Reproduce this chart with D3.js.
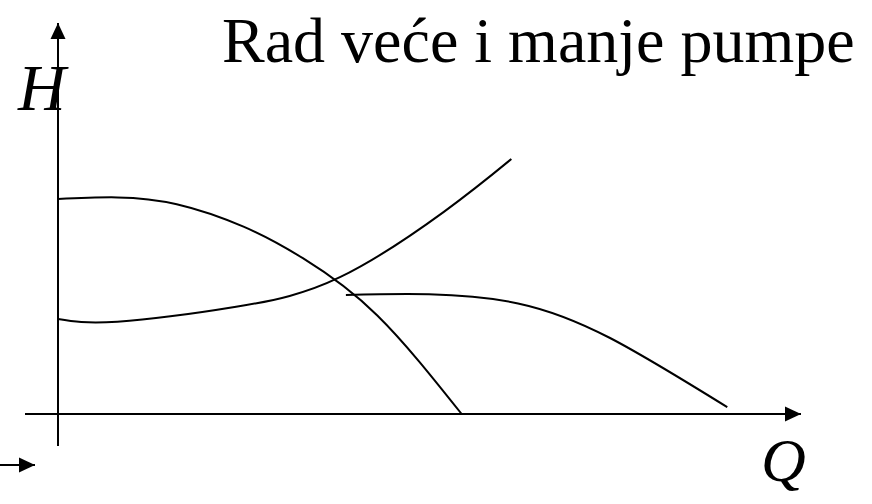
<!DOCTYPE html>
<html>
<head>
<meta charset="utf-8">
<script src="https://cdn.jsdelivr.net/npm/d3@7"></script>
<style>
  html, body { margin: 0; padding: 0; background: #fff; }
  svg { display: block; }
  text { font-family: "Liberation Serif", "Times New Roman", serif; fill: #000; }
</style>
</head>
<body>
<svg id="chart" width="872" height="504"></svg>
<script>
// Q-H curves (Q and H in relative units, 0..100)
const bigPumpQ = [0, 8, 16, 25, 33, 43, 54.4];
const bigPumpH = [56.6, 57.0, 55.2, 49.3, 41.0, 26.0, 0];

const systemQ = [0, 8, 24, 38, 52, 61.1];
const systemH = [25.0, 24.3, 28.2, 36.0, 53.2, 67.1];

const smallPumpQ = [38.8, 50, 62, 74.4, 90.2];
const smallPumpH = [31.3, 31.5, 29.1, 20.0, 1.8];

const titleText = "Rad veće i manje pumpe";
const xLabel = "Q";
const yLabel = "H";

const svg = d3.select("#chart");

const x = d3.scaleLinear().domain([0, 100]).range([58, 800]);
const y = d3.scaleLinear().domain([0, 100]).range([414, 34]);

// arrowhead marker
const defs = svg.append("defs");
defs.append("marker")
  .attr("id", "arrow")
  .attr("viewBox", "0 0 16 16")
  .attr("refX", 16).attr("refY", 8)
  .attr("markerWidth", 16).attr("markerHeight", 16)
  .attr("markerUnits", "userSpaceOnUse")
  .attr("orient", "auto")
  .append("path")
  .attr("d", "M0,0.5 L16,8 L0,15.5 Z")
  .attr("fill", "#000");

// axes
svg.append("line")
  .attr("x1", 25).attr("y1", y(0))
  .attr("x2", 801).attr("y2", y(0))
  .attr("stroke", "#000").attr("stroke-width", 2)
  .attr("marker-end", "url(#arrow)");

svg.append("line")
  .attr("x1", x(0)).attr("y1", 446)
  .attr("x2", x(0)).attr("y2", 23)
  .attr("stroke", "#000").attr("stroke-width", 2)
  .attr("marker-end", "url(#arrow)");

// small arrow, bottom left
svg.append("line")
  .attr("x1", 0).attr("y1", 465)
  .attr("x2", 35).attr("y2", 465)
  .attr("stroke", "#000").attr("stroke-width", 2)
  .attr("marker-end", "url(#arrow)");

// curves
const line = d3.line()
  .x(d => x(d[0]))
  .y(d => y(d[1]))
  .curve(d3.curveNatural);

const series = [
  d3.zip(bigPumpQ, bigPumpH),
  d3.zip(systemQ, systemH),
  d3.zip(smallPumpQ, smallPumpH)
];

svg.append("g")
  .selectAll("path")
  .data(series)
  .join("path")
  .attr("d", line)
  .attr("fill", "none")
  .attr("stroke", "#000")
  .attr("stroke-width", 2);

// texts
svg.append("text")
  .attr("x", 222).attr("y", 62)
  .attr("font-size", 64)
  .text(titleText);

svg.append("text")
  .attr("x", 18).attr("y", 110)
  .attr("font-size", 66)
  .attr("font-style", "italic")
  .text(yLabel);

svg.append("text")
  .attr("x", 761).attr("y", 481)
  .attr("font-size", 62)
  .attr("font-style", "italic")
  .text(xLabel);
</script>
</body>
</html>
